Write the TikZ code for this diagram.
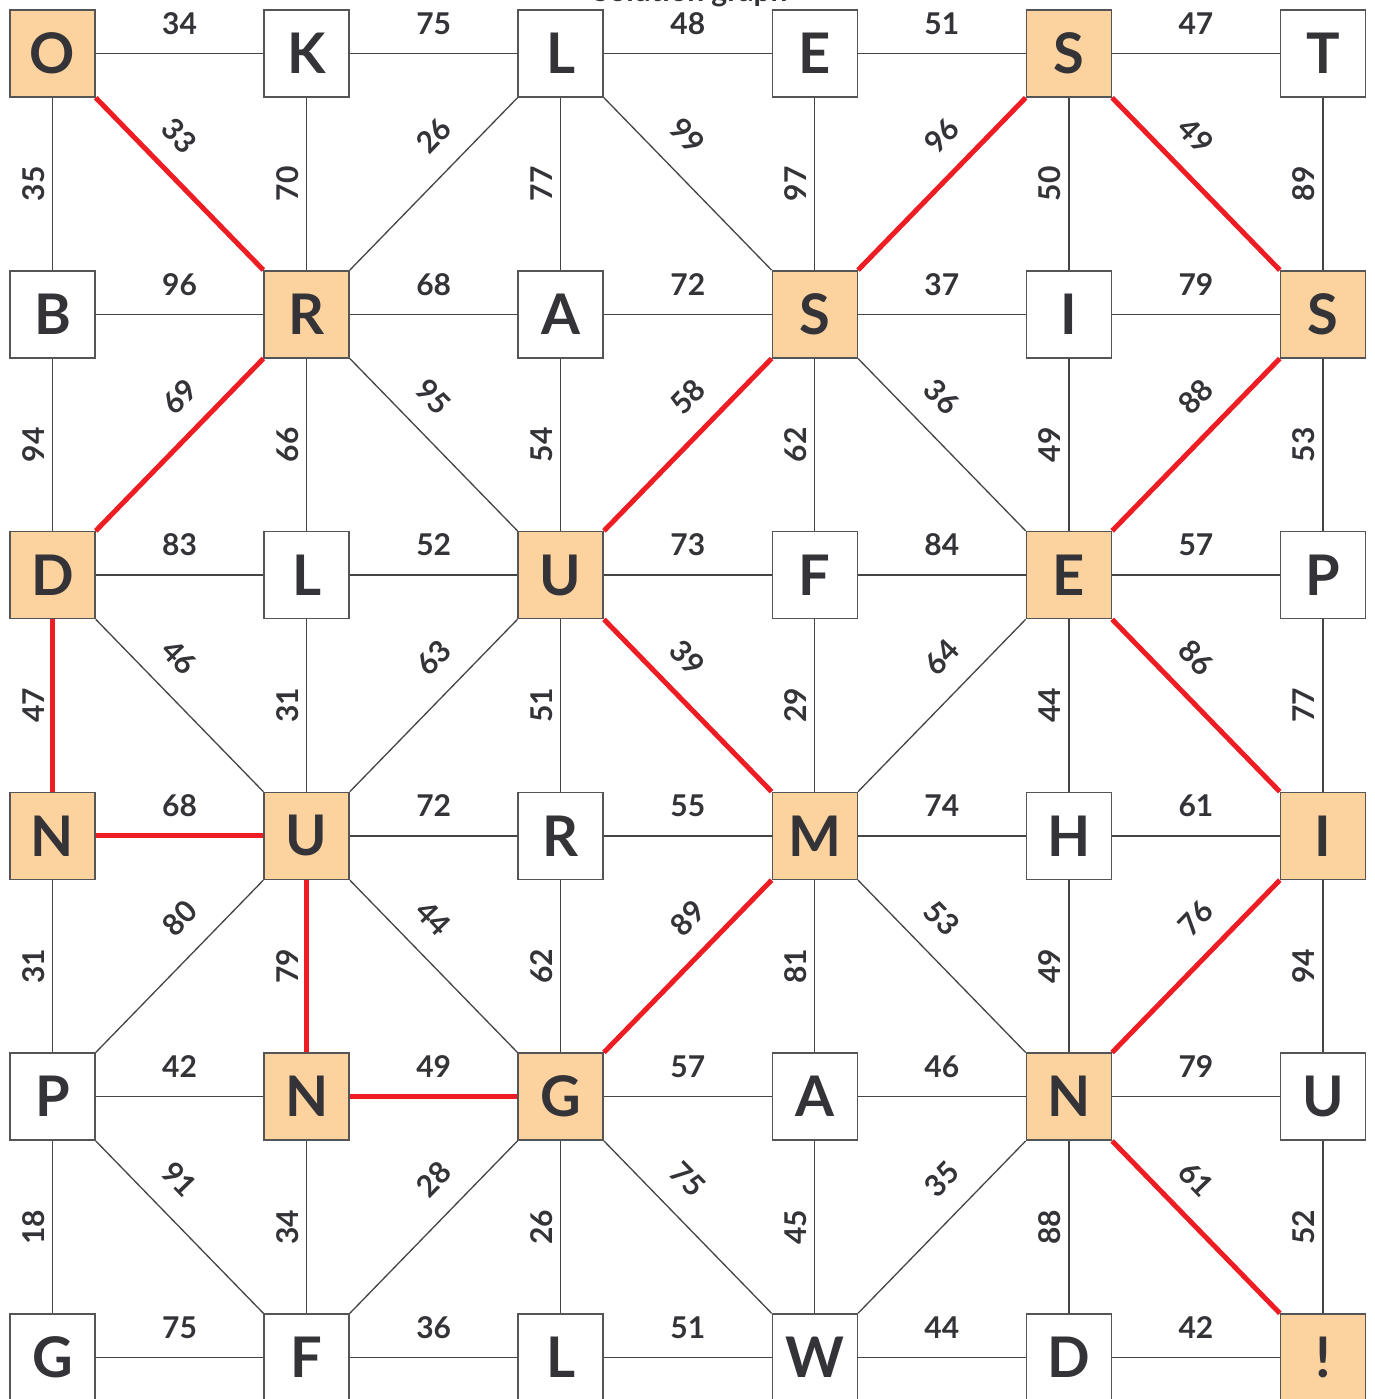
\documentclass[tikz,border=0pt]{standalone}
\usepackage{fontspec}
\setmainfont{Lato}
\definecolor{ink}{HTML}{333338}
\definecolor{boxline}{HTML}{555555}
\definecolor{edgeline}{HTML}{444444}
\definecolor{hlfill}{HTML}{FCD29E}
\definecolor{solred}{HTML}{EE1D23}
\begin{document}
\begin{tikzpicture}[x=1pt,y=-1pt,
  box/.style={draw=boxline, line width=1.5pt, minimum width=85pt, minimum height=87pt,
    inner sep=0pt, fill=white, text=ink, font=\fontsize{56}{60}\selectfont\bfseries},
  hl/.style={box, fill=hlfill},
  edge/.style={draw=edgeline, line width=1.3pt},
  sol/.style={draw=solred, line width=5pt},
  wlab/.style={text=ink, inner sep=0pt, font=\fontsize{30}{32}\selectfont\bfseries}]
\useasboundingbox (0,0) rectangle (1374,1399);
\fill[white] (0,0) rectangle (1374,1399);
% title (cut off at the top)
\node[wlab, anchor=base] (title) at (690,2) {Solution graph};
% letter boxes
\foreach \i/\j/\l/\s in {
 0/0/O/hl, 1/0/K/box, 2/0/L/box, 3/0/E/box, 4/0/S/hl, 5/0/T/box,
 0/1/B/box, 1/1/R/hl, 2/1/A/box, 3/1/S/hl, 4/1/I/box, 5/1/S/hl,
 0/2/D/hl, 1/2/L/box, 2/2/U/hl, 3/2/F/box, 4/2/E/hl, 5/2/P/box,
 0/3/N/hl, 1/3/U/hl, 2/3/R/box, 3/3/M/hl, 4/3/H/box, 5/3/I/hl,
 0/4/P/box, 1/4/N/hl, 2/4/G/hl, 3/4/A/box, 4/4/N/hl, 5/4/U/box,
 0/5/G/box, 1/5/F/box, 2/5/L/box, 3/5/W/box, 4/5/D/box, 5/5/!/hl}
  \node[\s] (n-\i-\j) at ({52.5+254.1*\i},{53.5+260.8*\j}) {\l};
% horizontal edges
\foreach \ws [count=\jj from 0] in {{34,75,48,51,47},{96,68,72,37,79},{83,52,73,84,57},
   {68,72,55,74,61},{42,49,57,46,79},{75,36,51,44,42}}{
  \foreach \w [count=\ii from 0] in \ws {
    \pgfmathtruncatemacro{\k}{\ii+1}
    \draw[edge] (n-\ii-\jj) -- (n-\k-\jj);
    \node[wlab] (h-\ii-\jj) at ({52.5+254.1*(\ii+0.5)},{53.5+260.8*\jj-30}) {\w};
  }
}
% vertical edges
\foreach \ws [count=\jj from 0] in {{35,70,77,97,50,89},{94,66,54,62,49,53},{47,31,51,29,44,77},
   {31,79,62,81,49,94},{18,34,26,45,88,52}}{
  \foreach \w [count=\ii from 0] in \ws {
    \pgfmathtruncatemacro{\k}{\jj+1}
    \draw[edge] (n-\ii-\jj) -- (n-\ii-\k);
    \node[wlab, rotate=90] (v-\ii-\jj) at ({52.5+254.1*\ii-19},{53.5+260.8*(\jj+0.5)}) {\w};
  }
}
% diagonal edges
\foreach \ws [count=\jj from 0] in {{33,26,99,96,49},{69,95,58,36,88},{46,63,39,64,86},
   {80,44,89,53,76},{91,28,75,35,61}}{
  \foreach \w [count=\ii from 0] in \ws {
    \pgfmathtruncatemacro{\k}{\ii+1}
    \pgfmathtruncatemacro{\m}{\jj+1}
    \pgfmathtruncatemacro{\parity}{mod(\ii+\jj,2)}
    \ifnum\parity=0
      \draw[edge] (n-\ii-\jj.south east) -- (n-\k-\m.north west);
      \node[wlab, rotate=-46] (d-\ii-\jj) at ({52.5+254.1*(\ii+0.5)},{53.5+260.8*(\jj+0.5)-48}) {\w};
    \else
      \draw[edge] (n-\ii-\m.north east) -- (n-\k-\jj.south west);
      \node[wlab, rotate=46] (d-\ii-\jj) at ({52.5+254.1*(\ii+0.5)},{53.5+260.8*(\jj+0.5)-48}) {\w};
    \fi
  }
}
% solution path
\draw[sol] (n-0-0.south east) -- (n-1-1.north west);
\draw[sol] (n-1-1.south west) -- (n-0-2.north east);
\draw[sol] (n-0-2) -- (n-0-3);
\draw[sol] (n-0-3) -- (n-1-3);
\draw[sol] (n-1-3) -- (n-1-4);
\draw[sol] (n-1-4) -- (n-2-4);
\draw[sol] (n-2-4.north east) -- (n-3-3.south west);
\draw[sol] (n-3-3.north west) -- (n-2-2.south east);
\draw[sol] (n-2-2.north east) -- (n-3-1.south west);
\draw[sol] (n-3-1.north east) -- (n-4-0.south west);
\draw[sol] (n-4-0.south east) -- (n-5-1.north west);
\draw[sol] (n-5-1.south west) -- (n-4-2.north east);
\draw[sol] (n-4-2.south east) -- (n-5-3.north west);
\draw[sol] (n-5-3.south west) -- (n-4-4.north east);
\draw[sol] (n-4-4.south east) -- (n-5-5.north west);
\end{tikzpicture}
\end{document}
